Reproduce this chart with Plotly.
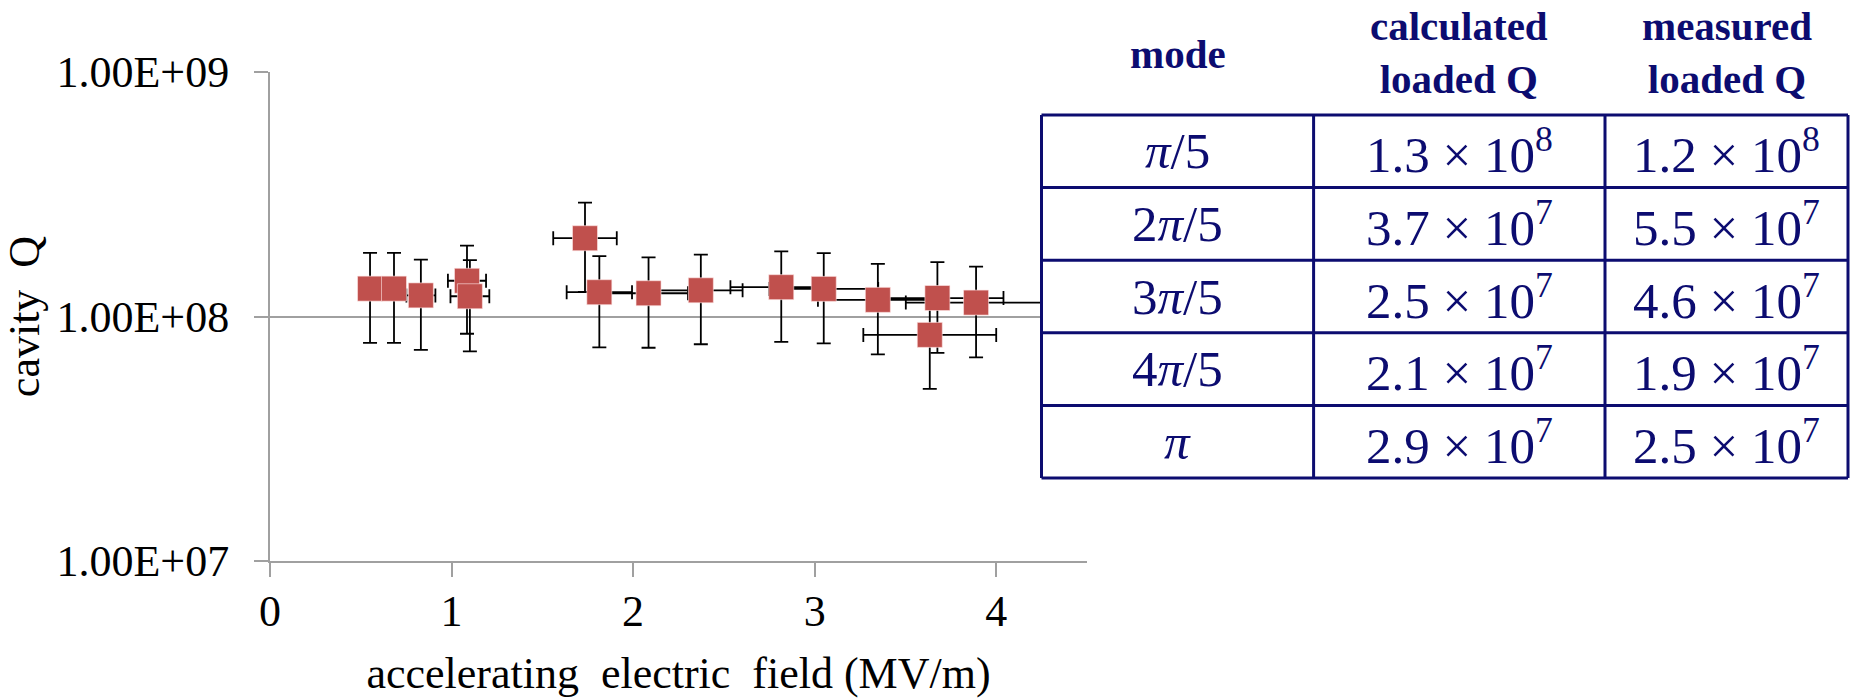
import plotly.graph_objects as go

# ---------------- data ----------------
field = [0.551, 0.683, 0.831, 1.085, 1.101, 1.735, 1.814, 2.085, 2.373, 2.816, 3.05, 3.348, 3.634, 3.676, 3.889]
cavity_q = [1.30e8, 1.30e8, 1.22e8, 1.40e8, 1.21e8, 2.09e8, 1.257e8, 1.245e8, 1.28e8, 1.318e8,
            1.297e8, 1.17e8, 8.41e7, 1.19e8, 1.14e8]
q_err = [0.52e8, 0.52e8, 0.49e8, 0.55e8, 0.49e8, 0.83e8, 0.51e8, 0.50e8, 0.51e8, 0.53e8,
         0.52e8, 0.47e8, 0.335e8, 0.48e8, 0.46e8]
field_err = [0.05, 0.05, 0.08, 0.105, 0.107, 0.175, 0.18, 0.217, 0.23, 0.28, 0.30, 0.33, 0.366, 0.364, 0.387]

y_tickvals = [1e7, 1e8, 1e9]
y_ticktext = ["1.00E+07", "1.00E+08", "1.00E+09"]
x_tickvals = [0, 1, 2, 3, 4]
x_title = "accelerating\u00a0 electric\u00a0 field (MV/m)"
y_title = "cavity\u00a0 Q"

table_header = ["mode", "calculated<br>loaded Q", "measured<br>loaded Q"]
modes = ["<i>π</i>/5", "2<i>π</i>/5", "3<i>π</i>/5", "4<i>π</i>/5", "<i>π</i>"]
calc_q = ["1.3 × 10<sup>8</sup>", "3.7 × 10<sup>7</sup>", "2.5 × 10<sup>7</sup>",
          "2.1 × 10<sup>7</sup>", "2.9 × 10<sup>7</sup>"]
meas_q = ["1.2 × 10<sup>8</sup>", "5.5 × 10<sup>7</sup>", "4.6 × 10<sup>7</sup>",
          "1.9 × 10<sup>7</sup>", "2.5 × 10<sup>7</sup>"]

# ---------------- layout geometry (pixels) ----------------
W, H = 1852, 698
PL, PR, PT, PB = 270, 1087, 72, 561          # plot area
TL, TR = 1041.5, 1848                         # table left/right
COLS = [1041.5, 1313.6, 1605, 1848]
TTOP, ROWH = 115, 72.6
HEADER_Y = [54, 52, 52]
NAVY = "#0c0c70"
GRAY = "#a0a0a0"
SERIF = "Liberation Serif, Times New Roman, serif"


def px2x(px):
    return (px - PL) / (PR - PL)


def px2y(py):
    return (PB - py) / (PB - PT)


fig = go.Figure()
fig.add_trace(go.Scatter(
    x=field, y=cavity_q, mode="markers",
    marker=dict(symbol="square", size=25, color="#C0504D",
                line=dict(color="rgba(255,230,230,0.6)", width=1)),
    error_y=dict(type="data", array=q_err, color="black", thickness=1.8, width=7),
    error_x=dict(type="data", array=field_err, color="black", thickness=1.8, width=7),
    showlegend=False, cliponaxis=False,
))

shapes = []
annotations = []
# white backing for the table (covers plot behind it)
shapes.append(dict(type="rect", xref="paper", yref="paper", layer="above",
                   x0=px2x(TL - 1), x1=px2x(W + 5), y0=px2y(TTOP + 5 * ROWH + 2), y1=px2y(-5),
                   fillcolor="white", line=dict(width=0)))
# table grid
for k in range(6):
    yy = TTOP + k * ROWH
    shapes.append(dict(type="line", xref="paper", yref="paper", layer="above",
                       x0=px2x(TL), x1=px2x(TR), y0=px2y(yy), y1=px2y(yy),
                       line=dict(color=NAVY, width=3)))
for cx in COLS:
    shapes.append(dict(type="line", xref="paper", yref="paper", layer="above",
                       x0=px2x(cx), x1=px2x(cx), y0=px2y(TTOP), y1=px2y(TTOP + 5 * ROWH),
                       line=dict(color=NAVY, width=3)))

centers = [(COLS[i] + COLS[i + 1]) / 2 for i in range(3)]
for i, htxt in enumerate(table_header):
    annotations.append(dict(xref="paper", yref="paper", x=px2x(centers[i]), y=px2y(HEADER_Y[i]),
                            text="<b>" + htxt + "</b>", showarrow=False,
                            xanchor="center", yanchor="middle",
                            font=dict(family=SERIF, size=41, color=NAVY)))
for r in range(5):
    yc = TTOP + (r + 0.5) * ROWH
    for i, col in enumerate([modes, calc_q, meas_q]):
        annotations.append(dict(xref="paper", yref="paper", x=px2x(centers[i]), y=px2y(yc),
                                text=col[r], showarrow=False,
                                xanchor="center", yanchor="middle",
                                font=dict(family=SERIF, size=51, color=NAVY)))

fig.update_layout(
    width=W, height=H,
    margin=dict(l=PL, r=W - PR, t=PT, b=H - PB, pad=0),
    paper_bgcolor="white", plot_bgcolor="white",
    template="none",
    shapes=shapes, annotations=annotations,
    font=dict(family=SERIF, color="black"),
    xaxis=dict(range=[0, 4.5], tickvals=x_tickvals, ticks="outside", ticklen=14,
               tickcolor=GRAY, tickwidth=2, showline=True, linecolor=GRAY, linewidth=2,
               showgrid=False, zeroline=False, automargin=False,
               tickfont=dict(family=SERIF, size=44, color="black"), ticklabelstandoff=-4,
               title=dict(text=x_title, font=dict(family=SERIF, size=44, color="black"),
                          standoff=45)),
    yaxis=dict(type="log", range=[7, 9], tickvals=y_tickvals, ticktext=y_ticktext,
               ticks="outside", ticklen=14, tickcolor=GRAY, tickwidth=2,
               showline=True, linecolor=GRAY, linewidth=2,
               showgrid=True, gridcolor=GRAY, gridwidth=2, zeroline=False, automargin=False,
               tickfont=dict(family=SERIF, size=44, color="black"), ticklabelstandoff=16,
               title=dict(text=y_title, font=dict(family=SERIF, size=44, color="black"),
                          standoff=32)),
)

fig.write_html("out.html", config={"displayModeBar": False},
               post_script="document.body.style.margin='0';document.body.style.overflow='hidden';")
